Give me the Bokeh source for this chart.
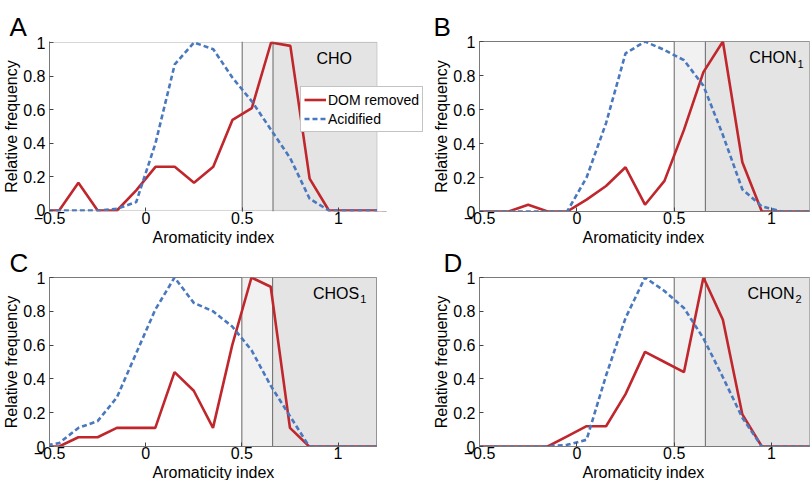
from bokeh.plotting import figure
from bokeh.layouts import column, row
from bokeh.models import (Range1d, FixedTicker, Legend, LegendItem,
                          BoxAnnotation, Span, Label, Title)
from bokeh.embed import file_html
from bokeh.resources import INLINE

# ---------------- data ----------------
aromaticity = [-0.55, -0.45, -0.35, -0.25, -0.15, -0.05, 0.05, 0.15, 0.25, 0.35,
               0.45, 0.55, 0.65, 0.75, 0.85, 0.95, 1.05, 1.15, 1.25]

cho_dom = [0, 0, 0.165, 0, 0, 0.12, 0.26, 0.26, 0.165, 0.26, 0.54, 0.61, 1.0, 0.98, 0.19, 0, 0, 0, 0]
cho_acid = [0, 0, 0, 0, 0.01, 0.05, 0.40, 0.87, 1.0, 0.96, 0.79, 0.65, 0.48, 0.31, 0.07, 0, 0, 0, 0]

chon1_dom = [0, 0, 0, 0.04, 0, 0, 0.07, 0.15, 0.26, 0.04, 0.18, 0.48, 0.82, 1.0, 0.29, 0, 0, 0, 0]
chon1_acid = [0, 0, 0, 0, 0, 0, 0.20, 0.52, 0.93, 1.0, 0.95, 0.89, 0.74, 0.45, 0.13, 0.03, 0, 0, 0]

chos1_dom = [0, 0, 0.055, 0.055, 0.11, 0.11, 0.11, 0.44, 0.33, 0.11, 0.60, 1.0, 0.945, 0.11, 0, 0, 0, 0, 0]
chos1_acid = [0, 0.02, 0.11, 0.15, 0.29, 0.55, 0.81, 1.0, 0.85, 0.80, 0.71, 0.57, 0.36, 0.18, 0, 0, 0, 0, 0]

chon2_dom = [0, 0, 0, 0, 0, 0.06, 0.12, 0.12, 0.31, 0.56, 0.50, 0.44, 1.0, 0.75, 0.19, 0, 0, 0, 0]
chon2_acid = [0, 0, 0, 0, 0, 0.01, 0.04, 0.42, 0.76, 1.0, 0.92, 0.82, 0.64, 0.41, 0.17, 0, 0, 0, 0]

ai_thresholds = [0.5, 0.66]
x_min, x_max = -0.5, 1.2
x_ticks = [-0.5, 0, 0.5, 1]
x_tick_labels = ["\u22120.5", "0", "0.5", "1"]
y_ticks = [0, 0.2, 0.4, 0.6, 0.8, 1]
y_tick_labels = ["0", "0.2", "0.4", "0.6", "0.8", "1"]
series_names = ["DOM removed", "Acidified"]

FONT = "Liberation Sans"
RED = "#c0272d"
BLUE = "#4a78bf"
FRAME = "#7a7a7a"
FRAME_W = 331  # visible axes box width in px


def panel(letter, dom, acid, tag, sub, width, height, left, right, top,
          letter_offset, tag_x, legend=False):
    # panel A is widened to the right so that its legend can overhang the axes box
    frame_px = width - left - right
    x_end = x_min + (x_max - x_min) * frame_px / FRAME_W
    y_pad = 0.006 if legend else 0.0
    p = figure(width=width, height=height, x_range=Range1d(x_min, x_end),
               y_range=Range1d(-y_pad, 1 + y_pad), output_backend="svg",
               toolbar_location=None,
               min_border_left=left, min_border_right=right,
               min_border_top=top, min_border_bottom=10,
               background_fill_color="white", border_fill_color="white")
    p.title = Title(text=letter, align="left", offset=letter_offset,
                    text_font=FONT, text_font_size="26px", text_font_style="normal",
                    text_color="black", standoff=0)
    p.grid.visible = False

    # shaded aromaticity regions
    p.add_layout(BoxAnnotation(left=ai_thresholds[0], right=ai_thresholds[1],
                               fill_color="#f1f1f1", fill_alpha=1, line_color=None,
                               level="underlay"))
    p.add_layout(BoxAnnotation(left=ai_thresholds[1], right=x_max, fill_color="#e4e4e4",
                               fill_alpha=1, line_color=None, level="underlay"))
    for t in ai_thresholds:
        p.add_layout(Span(location=t, dimension="height", line_color="#666666",
                          line_width=1, level="underlay"))

    r1 = p.line(aromaticity, dom, line_color=RED, line_width=2.6)
    r2 = p.line(aromaticity, acid, line_color=BLUE, line_width=2.6, line_dash="5 3")

    if legend:
        # hide everything right of the axes box and draw the box itself
        p.add_layout(BoxAnnotation(left=x_max, fill_color="white", fill_alpha=1,
                                   line_color=None, level="annotation"))
        p.add_layout(BoxAnnotation(left=x_min, right=x_max, bottom=0, top=1,
                                   fill_alpha=0, line_color=FRAME, line_width=1,
                                   level="annotation"))
        p.outline_line_color = None
    else:
        p.outline_line_color = FRAME
        p.outline_line_width = 1

    xa = p.xaxis[0]
    xa.ticker = FixedTicker(ticks=x_ticks)
    xa.major_label_overrides = dict(zip(x_ticks, x_tick_labels))
    ya = p.yaxis[0]
    ya.ticker = FixedTicker(ticks=y_ticks)
    ya.major_label_overrides = dict(zip(y_ticks, y_tick_labels))
    ya.axis_label = "Relative frequency"
    for ax in (xa, ya):
        ax.axis_line_color = FRAME
        ax.major_tick_in = 4
        ax.major_tick_out = 0
        ax.major_tick_line_color = "#444444"
        ax.minor_tick_line_color = None
        ax.major_label_text_font = FONT
        ax.major_label_text_font_size = "16px"
        ax.major_label_text_color = "black"
        ax.axis_label_text_font = FONT
        ax.axis_label_text_font_size = "16px"
        ax.axis_label_text_font_style = "normal"
        ax.axis_label_text_color = "black"
    if legend:
        xa.axis_line_color = None
    xa.major_label_standoff = 0
    ya.major_label_standoff = 4
    ya.axis_label_standoff = 0

    p.add_layout(Title(text="Aromaticity index", align="left", offset=103,
                       text_font=FONT, text_font_size="16px",
                       text_font_style="normal", text_color="black", standoff=0),
                 "below")

    p.add_layout(Label(x=tag_x, y=0.905, text=tag, text_align="right",
                       text_baseline="middle", text_font=FONT,
                       text_font_size="16px", text_color="black"))
    if sub:
        p.add_layout(Label(x=tag_x, y=0.87, x_offset=1, text=sub,
                           text_align="left", text_baseline="middle",
                           text_font=FONT, text_font_size="11px",
                           text_color="black"))

    if legend:
        lg = Legend(items=[LegendItem(label=series_names[0], renderers=[r1]),
                           LegendItem(label=series_names[1], renderers=[r2])],
                    location=(251, 79), level="overlay", label_text_font=FONT,
                    label_text_font_size="14px", label_text_color="black",
                    glyph_width=22, glyph_height=19, label_height=19,
                    label_standoff=2, padding=3, spacing=0, margin=0,
                    border_line_color="#888888", border_line_width=1,
                    background_fill_color="white", background_fill_alpha=1)
        p.add_layout(lg)
    return p


pA = panel("A", cho_dom, cho_acid, "CHO", None, 430, 245, 45, 0, 41, -40, 1.07, legend=True)
pB = panel("B", chon1_dom, chon1_acid, "CHON", "1", 380, 245, 49, 1, 41, -46, 1.128)
pC = panel("C", chos1_dom, chos1_acid, "CHOS", "1", 430, 235, 45, 54, 31, -40, 1.11)
pD = panel("D", chon2_dom, chon2_acid, "CHON", "2", 380, 235, 49, 1, 31, -36, 1.118)

layout = column(row(pA, pB), row(pC, pD))
open("out.html", "w").write(file_html(layout, INLINE))
